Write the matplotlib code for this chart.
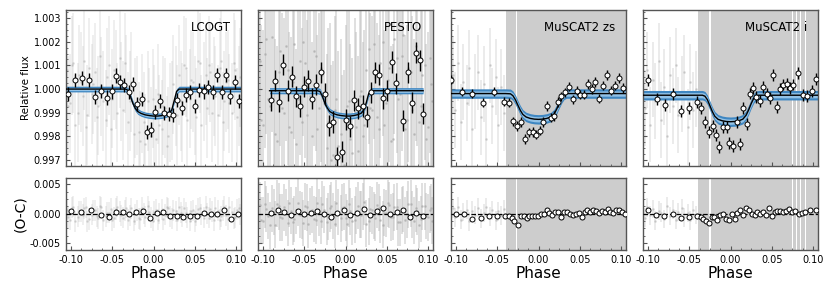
import matplotlib
matplotlib.use("Agg")
import matplotlib.pyplot as plt
from matplotlib.ticker import AutoMinorLocator, MultipleLocator
import numpy as np

# ── Data ──────────────────────────────────────────────────────────────────
INSTRUMENTS = ["LCOGT", "PESTO", "MuSCAT2 zs", "MuSCAT2 i"]

# raw light curves (gray haze) - two interleaved sets for LCOGT and PESTO
lco_raw_phase = [-0.105, -0.101, -0.097, -0.092, -0.088, -0.084, -0.080, -0.075, -0.071, -0.067,
                 -0.063, -0.058, -0.054, -0.050, -0.046, -0.041, -0.037, -0.033, -0.029, -0.024,
                 -0.020, -0.016, -0.012, -0.007, -0.003, 0.001, 0.005, 0.010, 0.014, 0.018,
                 0.022, 0.027, 0.031, 0.035, 0.039, 0.044, 0.048, 0.052, 0.056, 0.061,
                 0.065, 0.069, 0.073, 0.078, 0.082, 0.086, 0.090, 0.095, 0.099, 0.103]
lco_raw_flux = [1.0008, 0.9994, 1.0011, 0.9990, 1.0003, 1.0012, 0.9989, 0.9998, 1.0007, 0.9993,
                1.0001, 0.9987, 1.0010, 0.9996, 1.0004, 1.0013, 0.9991, 1.0002, 0.9995, 0.9981,
                0.9993, 0.9978, 0.9986, 0.9995, 0.9980, 0.9989, 0.9998, 0.9983, 0.9992, 0.9980,
                0.9991, 0.9997, 1.0006, 0.9990, 1.0009, 0.9996, 1.0003, 0.9988, 1.0011, 0.9999,
                0.9992, 1.0007, 1.0001, 0.9989, 1.0012, 0.9995, 1.0004, 0.9990, 1.0008, 0.9997]
lco_raw_res = [0.0007, -0.0010, 0.0012, -0.0005, 0.0003, 0.0009, -0.0013, -0.0002, 0.0006, -0.0008,
               0.0011, -0.0004, 0.0002, -0.0011, 0.0008, 0.0004, -0.0007, 0.0010, -0.0003, -0.0012,
               0.0005, -0.0009, 0.0001, 0.0013, -0.0006, 0.0003, -0.0010, 0.0007, -0.0002, 0.0009,
               -0.0008, 0.0004, 0.0011, -0.0005, 0.0002, -0.0012, 0.0006, -0.0003, 0.0010, -0.0007,
               0.0001, 0.0008, -0.0011, 0.0005, -0.0004, 0.0012, -0.0009, 0.0003, -0.0006, 0.0009]
lco2_raw_phase = [-0.103, -0.099, -0.095, -0.090, -0.086, -0.082, -0.078, -0.073, -0.069, -0.065,
                  -0.061, -0.056, -0.052, -0.048, -0.044, -0.039, -0.035, -0.031, -0.027, -0.022,
                  -0.018, -0.014, -0.010, -0.005, -0.001, 0.003, 0.007, 0.012, 0.016, 0.020,
                  0.024, 0.029, 0.033, 0.037, 0.041, 0.046, 0.050, 0.054, 0.058, 0.063,
                  0.067, 0.071, 0.075, 0.080, 0.084, 0.088, 0.092, 0.097, 0.101, 0.105]
lco2_raw_flux = [0.9993, 1.0010, 0.9985, 1.0006, 0.9997, 0.9984, 1.0009, 1.0002, 0.9988, 1.0014,
                 0.9995, 1.0005, 0.9983, 1.0008, 0.9990, 0.9999, 1.0011, 0.9986, 1.0003, 0.9992,
                 0.9982, 0.9994, 0.9977, 0.9988, 0.9996, 0.9979, 0.9985, 0.9993, 0.9976, 0.9990,
                 1.0002, 0.9989, 0.9995, 1.0010, 0.9987, 1.0004, 0.9993, 1.0012, 0.9985, 1.0006,
                 1.0010, 0.9990, 0.9997, 1.0009, 0.9986, 1.0003, 0.9994, 1.0011, 0.9988, 1.0005]
lco2_raw_res = [-0.0006, 0.0010, -0.0013, 0.0004, -0.0002, 0.0011, -0.0009, 0.0006, -0.0004, 0.0013,
                -0.0011, 0.0002, 0.0008, -0.0007, 0.0012, -0.0003, 0.0005, -0.0010, 0.0009, -0.0001,
                -0.0008, 0.0010, -0.0005, 0.0003, -0.0012, 0.0007, 0.0001, -0.0009, 0.0011, -0.0004,
                0.0006, -0.0011, 0.0002, 0.0009, -0.0006, 0.0004, -0.0013, 0.0008, -0.0002, 0.0012,
                -0.0007, 0.0003, 0.0010, -0.0010, 0.0005, -0.0003, 0.0011, -0.0008, 0.0007, -0.0001]

pes_raw_phase = [-0.104, -0.100, -0.096, -0.091, -0.087, -0.083, -0.079, -0.074, -0.070, -0.066,
                 -0.062, -0.057, -0.053, -0.049, -0.045, -0.040, -0.036, -0.032, -0.028, -0.023,
                 -0.019, -0.015, -0.011, -0.006, -0.002, 0.002, 0.006, 0.011, 0.015, 0.019,
                 0.023, 0.028, 0.032, 0.036, 0.040, 0.045, 0.049, 0.053, 0.057, 0.062,
                 0.066, 0.070, 0.074, 0.079, 0.083, 0.087, 0.091, 0.096, 0.100, 0.104]
pes_raw_flux = [1.0012, 0.9985, 1.0021, 0.9993, 1.0004, 0.9978, 1.0016, 0.9990, 1.0008, 0.9982,
                1.0019, 0.9996, 0.9986, 1.0011, 1.0001, 0.9980, 1.0014, 0.9992, 1.0006, 0.9975,
                0.9988, 0.9972, 0.9996, 0.9981, 0.9968, 0.9993, 0.9979, 0.9990, 0.9974, 0.9999,
                0.9985, 1.0017, 0.9991, 1.0005, 0.9983, 1.0020, 0.9994, 1.0009, 0.9979, 1.0013,
                0.9998, 1.0023, 0.9987, 1.0007, 0.9981, 1.0016, 0.9993, 1.0010, 0.9984, 1.0002]
pes_raw_res = [0.0015, -0.0012, 0.0008, -0.0020, 0.0003, 0.0017, -0.0006, 0.0011, -0.0016, 0.0005,
               -0.0009, 0.0019, -0.0003, 0.0013, -0.0018, 0.0007, -0.0011, 0.0002, 0.0016, -0.0014,
               0.0009, -0.0004, 0.0018, -0.0008, 0.0012, -0.0017, 0.0004, -0.0010, 0.0014, -0.0002,
               0.0020, -0.0013, 0.0006, -0.0007, 0.0010, -0.0019, 0.0001, 0.0015, -0.0005, 0.0012,
               -0.0015, 0.0008, -0.0001, 0.0017, -0.0012, 0.0004, -0.0009, 0.0013, -0.0006, 0.0010]
pes2_raw_phase = [-0.102, -0.098, -0.094, -0.089, -0.085, -0.081, -0.077, -0.072, -0.068, -0.064,
                  -0.060, -0.055, -0.051, -0.047, -0.043, -0.038, -0.034, -0.030, -0.026, -0.021,
                  -0.017, -0.013, -0.009, -0.004, 0.000, 0.004, 0.008, 0.013, 0.017, 0.021,
                  0.025, 0.030, 0.034, 0.038, 0.042, 0.047, 0.051, 0.055, 0.059, 0.064,
                  0.068, 0.072, 0.076, 0.081, 0.085, 0.089, 0.093, 0.098, 0.102, 0.105]
pes2_raw_flux = [0.9987, 1.0015, 0.9996, 1.0022, 0.9981, 1.0007, 0.9992, 1.0018, 0.9984, 1.0003,
                 0.9977, 1.0012, 1.0020, 0.9989, 0.9997, 1.0016, 0.9983, 1.0009, 0.9994, 0.9986,
                 0.9970, 0.9991, 0.9976, 0.9966, 0.9987, 0.9995, 0.9973, 0.9984, 0.9997, 0.9980,
                 1.0008, 0.9992, 1.0019, 0.9988, 1.0011, 0.9985, 1.0004, 0.9978, 1.0021, 0.9996,
                 1.0014, 0.9983, 1.0009, 0.9991, 1.0018, 0.9986, 1.0006, 0.9979, 1.0013, 0.9995]
pes2_raw_res = [-0.0011, 0.0016, -0.0004, 0.0009, -0.0019, 0.0013, -0.0007, 0.0002, 0.0018, -0.0014,
                0.0006, -0.0002, -0.0016, 0.0011, 0.0004, -0.0009, 0.0019, -0.0012, 0.0007, -0.0005,
                0.0014, -0.0018, 0.0003, 0.0010, -0.0007, 0.0017, -0.0013, 0.0005, -0.0001, 0.0012,
                -0.0017, 0.0008, -0.0003, 0.0015, -0.0010, 0.0002, 0.0018, -0.0006, 0.0011, -0.0015,
                0.0005, -0.0011, 0.0016, -0.0002, 0.0009, -0.0019, 0.0013, -0.0004, 0.0007, -0.0012]

# MuSCAT2 zs and i share time stamps; sparse pre-transit part only
mus_raw_phase = [-0.104, -0.101, -0.098, -0.094, -0.091, -0.087, -0.084, -0.080, -0.077, -0.073,
                 -0.070, -0.066, -0.063, -0.059, -0.056, -0.052, -0.049, -0.045, -0.042]
zs_raw_flux = [1.0006, 0.9991, 1.0011, 0.9986, 1.0003, 0.9994, 1.0009, 0.9983, 0.9999, 1.0007,
               0.9988, 1.0002, 0.9979, 1.0010, 0.9993, 1.0005, 0.9985, 1.0001, 0.9990]
i_raw_flux = [0.9992, 1.0008, 0.9985, 1.0004, 0.9995, 1.0012, 0.9987, 1.0001, 0.9980, 1.0006,
              0.9993, 1.0010, 0.9989, 0.9998, 1.0007, 0.9984, 1.0003, 0.9991, 1.0000]
zs_raw_res = [0.0009, -0.0006, 0.0012, -0.0010, 0.0003, 0.0007, -0.0013, 0.0005, -0.0002, 0.0010,
              -0.0008, 0.0001, 0.0011, -0.0005, 0.0006, -0.0011, 0.0004, -0.0003, 0.0008]
i_raw_res = [-0.0007, 0.0011, -0.0003, 0.0008, -0.0012, 0.0005, 0.0002, -0.0009, 0.0013, -0.0004,
             0.0007, -0.0010, 0.0003, 0.0009, -0.0006, 0.0001, -0.0011, 0.0006, -0.0002]
# phase ranges where MuSCAT2 points are so dense the error bars merge
zs_dense = [(-0.0393, -0.0268), (-0.0255, 0.106)]
i_dense = [(-0.0390, -0.0260), (-0.0238, 0.0740), (0.0752, 0.0790), (0.0802, 0.0840),
           (0.0855, 0.0900), (0.0912, 0.106)]

# binned points
lco_bin_phase = [-0.103, -0.0947, -0.087, -0.0785, -0.0713, -0.0636, -0.056, -0.0502, -0.0454, -0.0401,
                 -0.0353, -0.0296, -0.0244, -0.0195, -0.0139, -0.0082, -0.0026, 0.0023, 0.0079, 0.0132,
                 0.0188, 0.0233, 0.029, 0.0346, 0.0399, 0.0447, 0.0504, 0.0556, 0.0613, 0.0665,
                 0.0722, 0.077, 0.0827, 0.0879, 0.0932, 0.0992, 0.1041]
lco_bin_flux = [0.99979, 1.00039, 1.00047, 1.00039, 0.99967, 0.99993, 0.99964, 0.9999, 1.00057, 1.00031,
                1.00017, 0.99986, 1.00021, 0.99936, 0.99957, 0.99819, 0.99829, 0.99904, 0.9995, 0.999,
                0.99893, 0.9989, 0.99953, 0.99921, 0.99974, 0.99986, 0.99929, 0.99996, 0.9999, 1.0001,
                0.99986, 1.00061, 0.99986, 1.00061, 0.99969, 1.00029, 0.9995]
pes_bin_phase = [-0.0904, -0.0854, -0.0801, -0.0753, -0.07, -0.0652, -0.0603, -0.0555, -0.0502, -0.0454,
                 -0.0401, -0.0353, -0.03, -0.0248, -0.0199, -0.0147, -0.0098, -0.0046, 0.0007, 0.0055,
                 0.0108, 0.0156, 0.0209, 0.0257, 0.0306, 0.0358, 0.0411, 0.0459, 0.0508, 0.056,
                 0.0609, 0.0702, 0.0754, 0.0803, 0.0855, 0.0908, 0.0944]
pes_bin_flux = [0.99953, 1.00036, 0.99947, 1.00103, 0.99993, 1.00053, 0.99969, 0.99929, 1.0001, 1.00036,
                0.9996, 1.00019, 1.00071, 0.99979, 0.99847, 0.99861, 0.99711, 0.99736, 0.99871, 0.99843,
                0.99953, 0.99919, 0.99929, 0.99883, 0.99986, 1.00071, 1.00061, 0.99961, 0.99993, 1.00114,
                1.00024, 0.99867, 1.00071, 0.99943, 1.00153, 1.00121, 0.99896]
zs_bin_phase = [-0.106, -0.0931, -0.0801, -0.0676, -0.0543, -0.0414, -0.0357, -0.0304, -0.0264, -0.0207,
                -0.0159, -0.0119, -0.007, -0.003, 0.0019, 0.0059, 0.01, 0.0148, 0.0192, 0.0237,
                0.0273, 0.0322, 0.0374, 0.0419, 0.0463, 0.0508, 0.0548, 0.0601, 0.0645, 0.069,
                0.0734, 0.0782, 0.0835, 0.0879, 0.0928, 0.0976, 0.1021]
zs_bin_flux = [1.0004, 0.99989, 0.99981, 0.99943, 0.99989, 0.99947, 0.99943, 0.99864, 0.99843, 0.9986,
               0.99789, 0.99817, 0.99819, 0.99807, 0.99824, 0.99861, 0.99929, 0.99879, 0.99886, 0.99946,
               0.99969, 0.99986, 1.0001, 0.99956, 0.99993, 0.99976, 0.99976, 1.00021, 1.0, 1.00029,
               0.9996, 1.00014, 1.0006, 0.99993, 1.00014, 1.00046, 1.00004]
i_bin_phase = [-0.0995, -0.0894, -0.0797, -0.0692, -0.0595, -0.0498, -0.0401, -0.0353, -0.0308, -0.0264,
               -0.0216, -0.0171, -0.0135, -0.0086, -0.0046, -0.0013, 0.0035, 0.0075, 0.0116, 0.0156,
               0.0196, 0.0233, 0.0273, 0.031, 0.0354, 0.0398, 0.0439, 0.0479, 0.0519, 0.056,
               0.06, 0.064, 0.0681, 0.0721, 0.0762, 0.0823, 0.0875, 0.0924, 0.0984, 0.1037]
i_bin_flux = [1.00039, 0.99957, 0.99933, 0.99979, 0.99907, 0.99919, 0.99947, 0.99919, 0.99861, 0.99817,
              0.99843, 0.99807, 0.99757, 0.99839, 0.99839, 0.99771, 0.99761, 0.99861, 0.99767, 0.99919,
              0.99853, 0.99981, 1.00004, 0.99967, 0.9995, 1.0001, 0.99981, 0.99961, 1.00061, 0.99926,
              1.0, 1.00019, 1.00021, 1.00004, 1.00019, 1.00067, 0.99974, 0.99971, 0.99993, 1.00043]
bin_err = [0.0003, 0.00045, 0.0002, 0.00025]

# binned residuals
lco_res_phase = [-0.1003, -0.0882, -0.0757, -0.064, -0.0535, -0.045, -0.0369, -0.0292, -0.0211, -0.0131,
                 -0.0042, 0.0039, 0.012, 0.0201, 0.0281, 0.0362, 0.0443, 0.0524, 0.0609, 0.0694,
                 0.0774, 0.0859, 0.0944, 0.1025]
lco_res = [0.0004, 0.00034, 0.00063, -0.00017, -0.00057, 0.00023, 0.00023, 0.0, 0.00023, 0.00052,
           -0.00075, 0.00006, 0.00029, -0.00034, -0.00034, -0.00052, -0.0004, -0.0004, 0.00011, -0.00011,
           0.0, 0.00057, -0.00086, 0.0]
pes_res_phase = [-0.090, -0.082, -0.074, -0.066, -0.058, -0.050, -0.042, -0.034, -0.026, -0.018,
                 -0.010, -0.002, 0.006, 0.014, 0.022, 0.030, 0.038, 0.046, 0.054, 0.062,
                 0.070, 0.078, 0.086, 0.094]
pes_res = [0.0002, 0.0007, 0.0003, -0.0002, 0.0004, -0.0001, 0.0001, 0.0005, 0.0000, -0.0005,
           0.0002, 0.0006, -0.0003, 0.0001, 0.0008, -0.0002, 0.0004, 0.0009, -0.0001, 0.0003,
           0.0006, -0.0006, 0.0002, -0.0004]
zs_res_phase = [-0.1003, -0.0902, -0.0801, -0.07, -0.0599, -0.0498, -0.0405, -0.0357, -0.0316, -0.0292,
                -0.0252, -0.0212, -0.0175, -0.0143, -0.0111, -0.0074, -0.0038, -0.0006, 0.003, 0.0067,
                0.0099, 0.0132, 0.0168, 0.0204, 0.0241, 0.0273, 0.0309, 0.0346, 0.0382, 0.0418,
                0.0451, 0.0487, 0.0524, 0.056, 0.0592, 0.0629, 0.0665, 0.0697, 0.0734, 0.077,
                0.0802, 0.0839, 0.0871, 0.0908, 0.0944, 0.0976, 0.1013, 0.1049]
zs_res = [0.0, 0.0, -0.00086, -0.00075, -0.00034, -0.00034, -0.00034, -0.00046, -0.00075, -0.0013,
          -0.0019, -0.00046, -0.00034, -0.00075, -0.00046, -0.00046, -0.00046, -0.00046, 0.0, 0.0,
          0.00057, 0.00011, -0.00017, 0.00029, 0.00029, -0.00063, 0.00029, 0.00029, -0.00006, -0.00029,
          -0.00006, 0.00011, -0.00057, 0.00029, 0.00057, 0.00029, 0.00057, 0.0004, 0.00011, 0.00052,
          0.00023, 0.00086, 0.00029, 0.00011, 0.00057, 0.00057, 0.00029, 0.0]
i_res_phase = [-0.1, -0.0902, -0.0801, -0.07, -0.0603, -0.0502, -0.0409, -0.0361, -0.0329, -0.0296,
               -0.0264, -0.0228, -0.0195, -0.0163, -0.0127, -0.009, -0.0054, -0.0022, 0.0015, 0.0051,
               0.0083, 0.012, 0.0156, 0.0188, 0.0221, 0.0257, 0.0293, 0.0326, 0.0362, 0.0398,
               0.0431, 0.0463, 0.0499, 0.0536, 0.0568, 0.0604, 0.0641, 0.0677, 0.0713, 0.075,
               0.0786, 0.0827, 0.0863, 0.09, 0.0964, 0.1037]
i_res = [0.00057, -0.00017, -0.00046, 0.0, -0.00075, -0.00063, -0.00034, -0.00057, -0.00092, -0.0013,
         -0.0016, -0.00057, -0.00063, -0.00115, -0.00029, -0.00006, -0.00092, -0.00103, -0.00006, -0.00092,
         0.00011, 0.00057, -0.00029, 0.001, 0.00057, 0.0, -0.00029, 0.00029, 0.0, 0.00029,
         -0.00017, 0.001, -0.00046, 0.00029, 0.0004, 0.0004, 0.00029, 0.0004, 0.00086, 0.00029,
         0.0004, 0.0, 0.00011, 0.00023, 0.0007, 0.0007]

# transit models
model_phase = [-0.106, -0.040, -0.034, -0.031, -0.028, -0.025, -0.022, -0.019, -0.015, -0.010,
               -0.005, 0.000, 0.005, 0.010, 0.015, 0.019, 0.022, 0.025, 0.028, 0.031,
               0.034, 0.040, 0.106]
pes_model_phase = [-0.092, -0.040, -0.034, -0.031, -0.028, -0.025, -0.022, -0.019, -0.015, -0.010,
                   -0.005, 0.000, 0.005, 0.010, 0.015, 0.019, 0.022, 0.025, 0.028, 0.031,
                   0.034, 0.040, 0.094]
lco_model = [1.0, 1.0, 1.0, 0.99995, 0.9997, 0.9994, 0.99918, 0.99905, 0.99897, 0.99891,
             0.99888, 0.99886, 0.99886, 0.99888, 0.99892, 0.99898, 0.9991, 0.9995, 0.9999, 1.0,
             1.0, 1.0, 1.0]
pes_model = [0.99993, 0.99993, 0.99993, 0.9999, 0.9997, 0.9994, 0.9992, 0.99905, 0.99897, 0.99891,
             0.99888, 0.99886, 0.99886, 0.99888, 0.99892, 0.99898, 0.9991, 0.9994, 0.9998, 0.99993,
             0.99993, 0.99993, 0.99993]
zs_model = [0.99981, 0.99981, 0.9998, 0.99972, 0.99955, 0.99932, 0.9991, 0.99893, 0.99882, 0.99876,
            0.99873, 0.99872, 0.99873, 0.99876, 0.99882, 0.99895, 0.99915, 0.99938, 0.9996, 0.99976,
            0.99981, 0.99981, 0.99981]
i_model = [0.99974, 0.99974, 0.99974, 0.9997, 0.99955, 0.9993, 0.99905, 0.99885, 0.99872, 0.99866,
           0.99863, 0.99862, 0.99863, 0.99866, 0.99873, 0.9989, 0.99912, 0.99938, 0.9996, 0.99972,
           0.99974, 0.99974, 0.99974]
band_half = [0.00012, 0.00013, 0.0002, 0.0002]

panels = [
    dict(raw=[(lco_raw_phase, lco_raw_flux, lco_raw_res), (lco2_raw_phase, lco2_raw_flux, lco2_raw_res)],
         raw_err=0.0021, res_err=0.0018, raw_lw=1.1, raw_alpha=0.3, dense=[],
         bp=lco_bin_phase, bf=lco_bin_flux, rp=lco_res_phase, rr=lco_res, mp=model_phase, mf=lco_model),
    dict(raw=[(pes_raw_phase, pes_raw_flux, pes_raw_res), (pes2_raw_phase, pes2_raw_flux, pes2_raw_res)],
         raw_err=0.004, res_err=0.004, raw_lw=1.3, raw_alpha=0.5, dense=[],
         bp=pes_bin_phase, bf=pes_bin_flux, rp=pes_res_phase, rr=pes_res, mp=pes_model_phase, mf=pes_model),
    dict(raw=[(mus_raw_phase, zs_raw_flux, zs_raw_res)],
         raw_err=0.0016, res_err=0.0016, raw_lw=1.2, raw_alpha=0.35, dense=zs_dense,
         bp=zs_bin_phase, bf=zs_bin_flux, rp=zs_res_phase, rr=zs_res, mp=model_phase, mf=zs_model),
    dict(raw=[(mus_raw_phase, i_raw_flux, i_raw_res)],
         raw_err=0.0016, res_err=0.0016, raw_lw=1.2, raw_alpha=0.35, dense=i_dense,
         bp=i_bin_phase, bf=i_bin_flux, rp=i_res_phase, rr=i_res, mp=model_phase, mf=i_model),
]

# ── Plot ──────────────────────────────────────────────────────────────────
plt.rcParams["font.family"] = "DejaVu Sans"
fig = plt.figure(figsize=(8.3, 2.91), dpi=100)

lefts = [66, 258, 451, 643]
W = 830.0
H = 291.0
SPINE = "#555555"
RAW = "#bcbcbc"
DENSE = "#cdcdcd"

for k, (name, p) in enumerate(zip(INSTRUMENTS, panels)):
    ax = fig.add_axes([lefts[k] / W, 1 - 166 / H, 175 / W, 156 / H])
    axr = fig.add_axes([lefts[k] / W, 1 - 250 / H, 175 / W, 72 / H])

    for a in (ax, axr):
        for lo, hi in p["dense"]:
            a.axvspan(lo, hi, color=DENSE, lw=0, zorder=0)

    for ph, fl, rs in p["raw"]:
        ax.errorbar(ph, fl, yerr=p["raw_err"], fmt=".", ms=2, color="#a8a8a8", ecolor=RAW,
                    elinewidth=p["raw_lw"], alpha=p["raw_alpha"], zorder=1)
        axr.errorbar(ph, rs, yerr=p["res_err"], fmt=".", ms=2, color="#a8a8a8", ecolor=RAW,
                     elinewidth=p["raw_lw"], alpha=p["raw_alpha"], zorder=1)

    mp = np.array(p["mp"])
    mf = np.array(p["mf"])
    hw = band_half[k]
    ax.fill_between(mp, mf - hw, mf + hw, color="#3f87c2", lw=0, zorder=2)
    ax.fill_between(mp, mf - 0.55 * hw, mf + 0.55 * hw, color="#93c2e6", lw=0, zorder=2)
    ax.plot(mp, mf, color="black", lw=1.0, zorder=3)

    ax.errorbar(p["bp"], p["bf"], yerr=bin_err[k], fmt="o", ms=3.6, mfc="white",
                mec="black", mew=0.7, ecolor="black", elinewidth=1.0, zorder=4)
    axr.errorbar(p["rp"], p["rr"], yerr=0.00025, fmt="o", ms=3.6, mfc="white",
                 mec="black", mew=0.7, ecolor="black", elinewidth=0.8, zorder=4)
    axr.axhline(0, color="black", ls="--", lw=0.9, zorder=3)

    ax.set_xlim(-0.106, 0.106)
    axr.set_xlim(-0.106, 0.106)
    ax.set_ylim(0.99675, 1.00334)
    axr.set_ylim(-0.0062, 0.0061)

    ax.text(0.94, 0.89, name, transform=ax.transAxes, ha="right", va="center",
            fontsize=8.5, zorder=5)

    for a in (ax, axr):
        a.xaxis.set_major_locator(MultipleLocator(0.05))
        a.xaxis.set_minor_locator(MultipleLocator(0.0125))
        a.yaxis.set_minor_locator(AutoMinorLocator(4))
        a.tick_params(which="both", direction="in", labelsize=7, color=SPINE)
        a.tick_params(which="major", length=3)
        a.tick_params(which="minor", length=1.5)
        for s in a.spines.values():
            s.set_color(SPINE)
            s.set_linewidth(1.0)
    ax.yaxis.set_major_locator(MultipleLocator(0.001))
    axr.yaxis.set_major_locator(MultipleLocator(0.005))
    ax.tick_params(labelbottom=False)
    ax.yaxis.set_major_formatter(plt.FormatStrFormatter("%.3f"))
    axr.yaxis.set_major_formatter(plt.FormatStrFormatter("%.3f"))
    axr.xaxis.set_major_formatter(plt.FormatStrFormatter("%.2f"))
    axr.set_xlabel("Phase", fontsize=11, labelpad=1)
    if k == 0:
        ax.set_ylabel("Relative flux", fontsize=7.5, labelpad=2)
        axr.set_ylabel("(O-C)", fontsize=10, labelpad=2)
    else:
        ax.tick_params(labelleft=False)
        axr.tick_params(labelleft=False)

fig.savefig("out.png", dpi=100)
